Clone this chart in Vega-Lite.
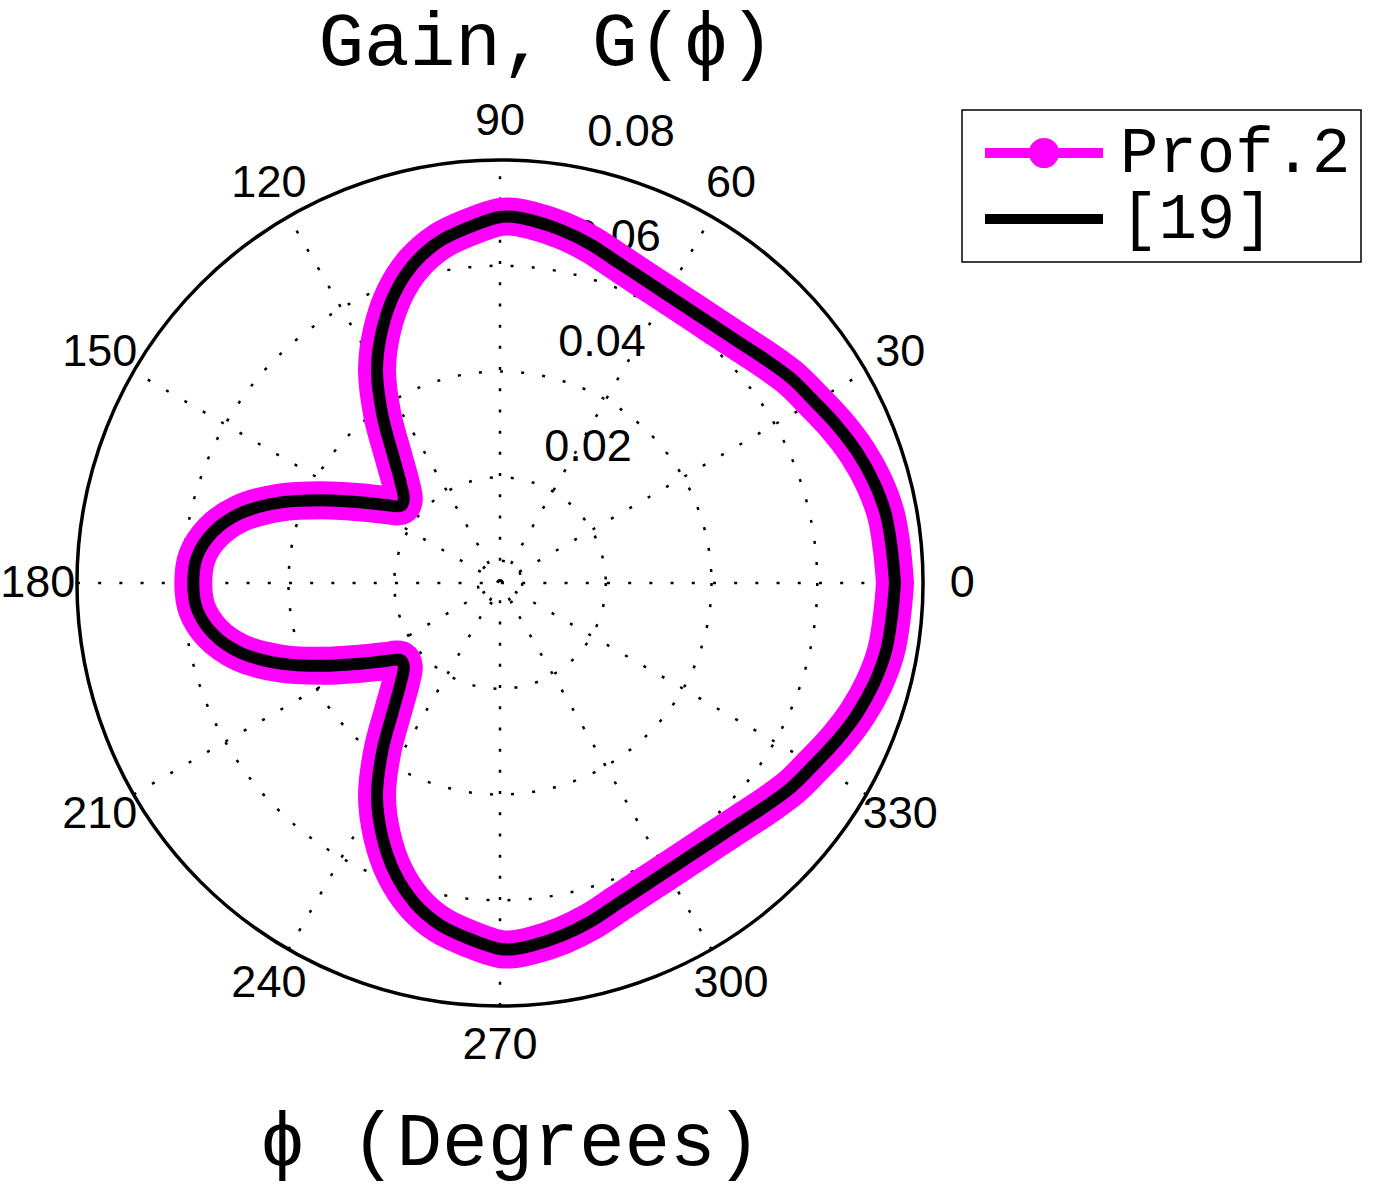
{
  "$schema": "https://vega.github.io/schema/vega-lite/v6.json",
  "width": 1400,
  "height": 1187,
  "autosize": {"type": "none"},
  "padding": 0,
  "background": "white",
  "config": {
    "view": {"stroke": null},
    "axisX": {
      "domain": false, "ticks": false, "labels": false, "grid": false,
      "titleFont": "Liberation Mono", "titleFontSize": 76, "titleFontWeight": "normal", "titleColor": "black",
      "titleX": 510, "titleY": -23, "titleAlign": "center", "titleBaseline": "alphabetic", "titleAngle": 0
    },
    "axisY": {
      "domain": false, "ticks": false, "labels": false, "grid": false,
      "titleFont": "Liberation Mono", "titleFontSize": 76, "titleFontWeight": "normal", "titleColor": "black",
      "titleX": 546, "titleY": 64, "titleAlign": "center", "titleBaseline": "alphabetic", "titleAngle": 0
    }
  },
  "datasets": {
    "curve": [
      {"series": "Prof.2", "phi": 0, "g": 0.0747},
      {"series": "Prof.2", "phi": 5, "g": 0.07438},
      {"series": "Prof.2", "phi": 10, "g": 0.07413},
      {"series": "Prof.2", "phi": 15, "g": 0.07326},
      {"series": "Prof.2", "phi": 20, "g": 0.07197},
      {"series": "Prof.2", "phi": 25, "g": 0.07035},
      {"series": "Prof.2", "phi": 30, "g": 0.06865},
      {"series": "Prof.2", "phi": 35, "g": 0.06732},
      {"series": "Prof.2", "phi": 40, "g": 0.06564},
      {"series": "Prof.2", "phi": 45, "g": 0.0642},
      {"series": "Prof.2", "phi": 50, "g": 0.06331},
      {"series": "Prof.2", "phi": 55, "g": 0.06292},
      {"series": "Prof.2", "phi": 60, "g": 0.06301},
      {"series": "Prof.2", "phi": 65, "g": 0.06358},
      {"series": "Prof.2", "phi": 70, "g": 0.06466},
      {"series": "Prof.2", "phi": 75, "g": 0.06628},
      {"series": "Prof.2", "phi": 80, "g": 0.0677},
      {"series": "Prof.2", "phi": 85, "g": 0.06884},
      {"series": "Prof.2", "phi": 88, "g": 0.06931},
      {"series": "Prof.2", "phi": 90, "g": 0.06921},
      {"series": "Prof.2", "phi": 95, "g": 0.06751},
      {"series": "Prof.2", "phi": 100, "g": 0.06562},
      {"series": "Prof.2", "phi": 105, "g": 0.06259},
      {"series": "Prof.2", "phi": 110, "g": 0.05825},
      {"series": "Prof.2", "phi": 115, "g": 0.05276},
      {"series": "Prof.2", "phi": 120, "g": 0.04652},
      {"series": "Prof.2", "phi": 125, "g": 0.03877},
      {"series": "Prof.2", "phi": 130, "g": 0.03139},
      {"series": "Prof.2", "phi": 135, "g": 0.02648},
      {"series": "Prof.2", "phi": 139, "g": 0.02411},
      {"series": "Prof.2", "phi": 142, "g": 0.02373},
      {"series": "Prof.2", "phi": 146, "g": 0.02648},
      {"series": "Prof.2", "phi": 150, "g": 0.03054},
      {"series": "Prof.2", "phi": 155, "g": 0.03707},
      {"series": "Prof.2", "phi": 160, "g": 0.04444},
      {"series": "Prof.2", "phi": 165, "g": 0.05087},
      {"series": "Prof.2", "phi": 170, "g": 0.05514},
      {"series": "Prof.2", "phi": 175, "g": 0.05749},
      {"series": "Prof.2", "phi": 180, "g": 0.058},
      {"series": "Prof.2", "phi": 185, "g": 0.05749},
      {"series": "Prof.2", "phi": 190, "g": 0.05514},
      {"series": "Prof.2", "phi": 195, "g": 0.05087},
      {"series": "Prof.2", "phi": 200, "g": 0.04444},
      {"series": "Prof.2", "phi": 205, "g": 0.03707},
      {"series": "Prof.2", "phi": 210, "g": 0.03054},
      {"series": "Prof.2", "phi": 214, "g": 0.02648},
      {"series": "Prof.2", "phi": 218, "g": 0.02373},
      {"series": "Prof.2", "phi": 221, "g": 0.02411},
      {"series": "Prof.2", "phi": 225, "g": 0.02648},
      {"series": "Prof.2", "phi": 230, "g": 0.03139},
      {"series": "Prof.2", "phi": 235, "g": 0.03877},
      {"series": "Prof.2", "phi": 240, "g": 0.04652},
      {"series": "Prof.2", "phi": 245, "g": 0.05276},
      {"series": "Prof.2", "phi": 250, "g": 0.05825},
      {"series": "Prof.2", "phi": 255, "g": 0.06259},
      {"series": "Prof.2", "phi": 260, "g": 0.06562},
      {"series": "Prof.2", "phi": 265, "g": 0.06751},
      {"series": "Prof.2", "phi": 270, "g": 0.06921},
      {"series": "Prof.2", "phi": 272, "g": 0.06931},
      {"series": "Prof.2", "phi": 275, "g": 0.06884},
      {"series": "Prof.2", "phi": 280, "g": 0.0677},
      {"series": "Prof.2", "phi": 285, "g": 0.06628},
      {"series": "Prof.2", "phi": 290, "g": 0.06466},
      {"series": "Prof.2", "phi": 295, "g": 0.06358},
      {"series": "Prof.2", "phi": 300, "g": 0.06301},
      {"series": "Prof.2", "phi": 305, "g": 0.06292},
      {"series": "Prof.2", "phi": 310, "g": 0.06331},
      {"series": "Prof.2", "phi": 315, "g": 0.0642},
      {"series": "Prof.2", "phi": 320, "g": 0.06564},
      {"series": "Prof.2", "phi": 325, "g": 0.06732},
      {"series": "Prof.2", "phi": 330, "g": 0.06865},
      {"series": "Prof.2", "phi": 335, "g": 0.07035},
      {"series": "Prof.2", "phi": 340, "g": 0.07197},
      {"series": "Prof.2", "phi": 345, "g": 0.07326},
      {"series": "Prof.2", "phi": 350, "g": 0.07413},
      {"series": "Prof.2", "phi": 355, "g": 0.07438},
      {"series": "Prof.2", "phi": 360, "g": 0.0747},
      {"series": "[19]", "phi": 0, "g": 0.0747},
      {"series": "[19]", "phi": 5, "g": 0.07438},
      {"series": "[19]", "phi": 10, "g": 0.07413},
      {"series": "[19]", "phi": 15, "g": 0.07326},
      {"series": "[19]", "phi": 20, "g": 0.07197},
      {"series": "[19]", "phi": 25, "g": 0.07035},
      {"series": "[19]", "phi": 30, "g": 0.06865},
      {"series": "[19]", "phi": 35, "g": 0.06732},
      {"series": "[19]", "phi": 40, "g": 0.06564},
      {"series": "[19]", "phi": 45, "g": 0.0642},
      {"series": "[19]", "phi": 50, "g": 0.06331},
      {"series": "[19]", "phi": 55, "g": 0.06292},
      {"series": "[19]", "phi": 60, "g": 0.06301},
      {"series": "[19]", "phi": 65, "g": 0.06358},
      {"series": "[19]", "phi": 70, "g": 0.06466},
      {"series": "[19]", "phi": 75, "g": 0.06628},
      {"series": "[19]", "phi": 80, "g": 0.0677},
      {"series": "[19]", "phi": 85, "g": 0.06884},
      {"series": "[19]", "phi": 88, "g": 0.06931},
      {"series": "[19]", "phi": 90, "g": 0.06921},
      {"series": "[19]", "phi": 95, "g": 0.06751},
      {"series": "[19]", "phi": 100, "g": 0.06562},
      {"series": "[19]", "phi": 105, "g": 0.06259},
      {"series": "[19]", "phi": 110, "g": 0.05825},
      {"series": "[19]", "phi": 115, "g": 0.05276},
      {"series": "[19]", "phi": 120, "g": 0.04652},
      {"series": "[19]", "phi": 125, "g": 0.03877},
      {"series": "[19]", "phi": 130, "g": 0.03139},
      {"series": "[19]", "phi": 135, "g": 0.02648},
      {"series": "[19]", "phi": 139, "g": 0.02411},
      {"series": "[19]", "phi": 142, "g": 0.02373},
      {"series": "[19]", "phi": 146, "g": 0.02648},
      {"series": "[19]", "phi": 150, "g": 0.03054},
      {"series": "[19]", "phi": 155, "g": 0.03707},
      {"series": "[19]", "phi": 160, "g": 0.04444},
      {"series": "[19]", "phi": 165, "g": 0.05087},
      {"series": "[19]", "phi": 170, "g": 0.05514},
      {"series": "[19]", "phi": 175, "g": 0.05749},
      {"series": "[19]", "phi": 180, "g": 0.058},
      {"series": "[19]", "phi": 185, "g": 0.05749},
      {"series": "[19]", "phi": 190, "g": 0.05514},
      {"series": "[19]", "phi": 195, "g": 0.05087},
      {"series": "[19]", "phi": 200, "g": 0.04444},
      {"series": "[19]", "phi": 205, "g": 0.03707},
      {"series": "[19]", "phi": 210, "g": 0.03054},
      {"series": "[19]", "phi": 214, "g": 0.02648},
      {"series": "[19]", "phi": 218, "g": 0.02373},
      {"series": "[19]", "phi": 221, "g": 0.02411},
      {"series": "[19]", "phi": 225, "g": 0.02648},
      {"series": "[19]", "phi": 230, "g": 0.03139},
      {"series": "[19]", "phi": 235, "g": 0.03877},
      {"series": "[19]", "phi": 240, "g": 0.04652},
      {"series": "[19]", "phi": 245, "g": 0.05276},
      {"series": "[19]", "phi": 250, "g": 0.05825},
      {"series": "[19]", "phi": 255, "g": 0.06259},
      {"series": "[19]", "phi": 260, "g": 0.06562},
      {"series": "[19]", "phi": 265, "g": 0.06751},
      {"series": "[19]", "phi": 270, "g": 0.06921},
      {"series": "[19]", "phi": 272, "g": 0.06931},
      {"series": "[19]", "phi": 275, "g": 0.06884},
      {"series": "[19]", "phi": 280, "g": 0.0677},
      {"series": "[19]", "phi": 285, "g": 0.06628},
      {"series": "[19]", "phi": 290, "g": 0.06466},
      {"series": "[19]", "phi": 295, "g": 0.06358},
      {"series": "[19]", "phi": 300, "g": 0.06301},
      {"series": "[19]", "phi": 305, "g": 0.06292},
      {"series": "[19]", "phi": 310, "g": 0.06331},
      {"series": "[19]", "phi": 315, "g": 0.0642},
      {"series": "[19]", "phi": 320, "g": 0.06564},
      {"series": "[19]", "phi": 325, "g": 0.06732},
      {"series": "[19]", "phi": 330, "g": 0.06865},
      {"series": "[19]", "phi": 335, "g": 0.07035},
      {"series": "[19]", "phi": 340, "g": 0.07197},
      {"series": "[19]", "phi": 345, "g": 0.07326},
      {"series": "[19]", "phi": 350, "g": 0.07413},
      {"series": "[19]", "phi": 355, "g": 0.07438},
      {"series": "[19]", "phi": 360, "g": 0.0747}
    ],
    "rings": [{"g": 0.0042}, {"g": 0.02}, {"g": 0.04}, {"g": 0.06}],
    "outer": [{"g": 0.08}],
    "spokes": [{"a": 0}, {"a": 30}, {"a": 60}, {"a": 90}, {"a": 120}, {"a": 150}],
    "angles": [
      {"a": 0, "label": "0"}, {"a": 30, "label": "30"}, {"a": 60, "label": "60"},
      {"a": 90, "label": "90"}, {"a": 120, "label": "120"}, {"a": 150, "label": "150"},
      {"a": 180, "label": "180"}, {"a": 210, "label": "210"}, {"a": 240, "label": "240"},
      {"a": 270, "label": "270"}, {"a": 300, "label": "300"}, {"a": 330, "label": "330"}
    ],
    "rlabels": [
      {"label": "0.02", "x": 0.01664, "y": 0.02572},
      {"label": "0.04", "x": 0.01929, "y": 0.04557},
      {"label": "0.06", "x": 0.02213, "y": 0.06543},
      {"label": "0.08", "x": 0.02477, "y": 0.08529}
    ]
  },
  "layer": [
    {
      "data": {"name": "spokes"},
      "transform": [
        {"calculate": "-0.08*cos(datum.a*PI/180)", "as": "px"},
        {"calculate": "-0.08*sin(datum.a*PI/180)", "as": "py"},
        {"calculate": "0.08*cos(datum.a*PI/180)", "as": "px2"},
        {"calculate": "0.08*sin(datum.a*PI/180)", "as": "py2"}
      ],
      "mark": {"type": "rule", "stroke": "black", "strokeWidth": 2.5, "strokeDash": [3, 18.2]},
      "encoding": {
        "x": {"field": "px", "type": "quantitative", "title": "ϕ (Degrees)", "scale": {"domain": [-0.094554, 0.170197], "nice": false, "zero": false}, "axis": {"title": "ϕ (Degrees)"}},
        "y": {"field": "py", "type": "quantitative", "title": "Gain, G(ϕ)", "scale": {"domain": [-0.114221, 0.11025], "nice": false, "zero": false}, "axis": {"title": "Gain, G(ϕ)"}},
        "x2": {"field": "px2"},
        "y2": {"field": "py2"}
      }
    },
    {
      "data": {"name": "rings"},
      "mark": {"type": "point", "shape": "circle", "filled": false, "fill": null, "stroke": "black", "strokeWidth": 2.5, "strokeDash": [3, 18.2], "opacity": 1},
      "encoding": {
        "x": {"datum": 0, "type": "quantitative", "title": "ϕ (Degrees)", "scale": {"domain": [-0.094554, 0.170197], "nice": false, "zero": false}, "axis": {"title": "ϕ (Degrees)"}},
        "y": {"datum": 0, "type": "quantitative", "title": "Gain, G(ϕ)", "scale": {"domain": [-0.114221, 0.11025], "nice": false, "zero": false}, "axis": {"title": "Gain, G(ϕ)"}},
        "size": {"field": "g", "type": "quantitative", "scale": {"type": "pow", "exponent": 2, "domain": [0, 0.08], "range": [0, 715851]}, "legend": null}
      }
    },
    {
      "data": {"name": "outer"},
      "mark": {"type": "point", "shape": "circle", "filled": false, "fill": null, "stroke": "black", "strokeWidth": 3.5, "opacity": 1},
      "encoding": {
        "x": {"datum": 0, "type": "quantitative", "title": "ϕ (Degrees)", "scale": {"domain": [-0.094554, 0.170197], "nice": false, "zero": false}, "axis": {"title": "ϕ (Degrees)"}},
        "y": {"datum": 0, "type": "quantitative", "title": "Gain, G(ϕ)", "scale": {"domain": [-0.114221, 0.11025], "nice": false, "zero": false}, "axis": {"title": "Gain, G(ϕ)"}},
        "size": {"field": "g", "type": "quantitative", "scale": {"type": "pow", "exponent": 2, "domain": [0, 0.08], "range": [0, 715851]}, "legend": null}
      }
    },
    {
      "data": {"name": "angles"},
      "transform": [
        {"calculate": "0.0874*cos(datum.a*PI/180)", "as": "px"},
        {"calculate": "0.0874*sin(datum.a*PI/180)", "as": "py"}
      ],
      "mark": {"type": "text", "font": "Liberation Sans", "fontSize": 45, "align": "center", "baseline": "middle", "color": "black"},
      "encoding": {
        "x": {"field": "px", "type": "quantitative", "title": "ϕ (Degrees)", "scale": {"domain": [-0.094554, 0.170197], "nice": false, "zero": false}, "axis": {"title": "ϕ (Degrees)"}},
        "y": {"field": "py", "type": "quantitative", "title": "Gain, G(ϕ)", "scale": {"domain": [-0.114221, 0.11025], "nice": false, "zero": false}, "axis": {"title": "Gain, G(ϕ)"}},
        "text": {"field": "label"}
      }
    },
    {
      "data": {"name": "rlabels"},
      "mark": {"type": "text", "font": "Liberation Sans", "fontSize": 45, "align": "center", "baseline": "middle", "color": "black"},
      "encoding": {
        "x": {"field": "x", "type": "quantitative", "title": "ϕ (Degrees)", "scale": {"domain": [-0.094554, 0.170197], "nice": false, "zero": false}, "axis": {"title": "ϕ (Degrees)"}},
        "y": {"field": "y", "type": "quantitative", "title": "Gain, G(ϕ)", "scale": {"domain": [-0.114221, 0.11025], "nice": false, "zero": false}, "axis": {"title": "Gain, G(ϕ)"}},
        "text": {"field": "label"}
      }
    },
    {
      "data": {"name": "curve"},
      "transform": [
        {"filter": "datum.series === 'Prof.2'"},
        {"calculate": "datum.g*cos(datum.phi*PI/180)", "as": "px"},
        {"calculate": "datum.g*sin(datum.phi*PI/180)", "as": "py"}
      ],
      "mark": {"type": "line", "strokeWidth": 38, "strokeJoin": "round", "strokeCap": "round", "interpolate": "catmull-rom"},
      "encoding": {
        "x": {"field": "px", "type": "quantitative", "title": "ϕ (Degrees)", "scale": {"domain": [-0.094554, 0.170197], "nice": false, "zero": false}, "axis": {"title": "ϕ (Degrees)"}},
        "y": {"field": "py", "type": "quantitative", "title": "Gain, G(ϕ)", "scale": {"domain": [-0.114221, 0.11025], "nice": false, "zero": false}, "axis": {"title": "Gain, G(ϕ)"}},
        "order": {"field": "phi", "type": "quantitative"},
        "color": {
          "field": "series", "type": "nominal",
          "scale": {"domain": ["Prof.2", "[19]"], "range": ["#ff00ff", "#000000"]},
          "legend": {
            "orient": "none", "legendX": 962, "legendY": 110, "title": null, "direction": "vertical",
            "strokeColor": "black", "fillColor": "white", "padding": 10, "symbolOffset": 8, "clipHeight": 66,
            "labelFont": "Liberation Mono", "labelFontSize": 64, "labelColor": "black", "labelOffset": 12, "labelLimit": 0,
            "symbolType": "stroke", "symbolSize": 13924, "symbolStrokeWidth": 10, "rowPadding": 0,
            "encode": {
              "legend": {"update": {"strokeWidth": {"value": 1.5}}},
              "symbols": {"update": {
                "shape": {"signal": "datum.value === 'Prof.2' ? 'M-1,0H1M0.17,0A0.17,0.17,0,1,1,-0.17,0A0.17,0.17,0,1,1,0.17,0' : 'stroke'"},
                "strokeWidth": {"value": 10},
                "fill": {"value": "transparent"},
                "fillOpacity": {"value": 0},
                "opacity": {"value": 1}
              }}
            }
          }
        }
      }
    },
    {
      "data": {"name": "curve"},
      "transform": [
        {"filter": "datum.series === '[19]'"},
        {"calculate": "datum.g*cos(datum.phi*PI/180)", "as": "px"},
        {"calculate": "datum.g*sin(datum.phi*PI/180)", "as": "py"}
      ],
      "mark": {"type": "line", "strokeWidth": 12, "strokeJoin": "round", "strokeCap": "round", "interpolate": "catmull-rom"},
      "encoding": {
        "x": {"field": "px", "type": "quantitative", "title": "ϕ (Degrees)", "scale": {"domain": [-0.094554, 0.170197], "nice": false, "zero": false}, "axis": {"title": "ϕ (Degrees)"}},
        "y": {"field": "py", "type": "quantitative", "title": "Gain, G(ϕ)", "scale": {"domain": [-0.114221, 0.11025], "nice": false, "zero": false}, "axis": {"title": "Gain, G(ϕ)"}},
        "order": {"field": "phi", "type": "quantitative"},
        "color": {
          "field": "series", "type": "nominal",
          "scale": {"domain": ["Prof.2", "[19]"], "range": ["#ff00ff", "#000000"]},
          "legend": {
            "orient": "none", "legendX": 962, "legendY": 110, "title": null, "direction": "vertical",
            "strokeColor": "black", "fillColor": "white", "padding": 10, "symbolOffset": 8, "clipHeight": 66,
            "labelFont": "Liberation Mono", "labelFontSize": 64, "labelColor": "black", "labelOffset": 12, "labelLimit": 0,
            "symbolType": "stroke", "symbolSize": 13924, "symbolStrokeWidth": 10, "rowPadding": 0,
            "encode": {
              "legend": {"update": {"strokeWidth": {"value": 1.5}}},
              "symbols": {"update": {
                "shape": {"signal": "datum.value === 'Prof.2' ? 'M-1,0H1M0.17,0A0.17,0.17,0,1,1,-0.17,0A0.17,0.17,0,1,1,0.17,0' : 'stroke'"},
                "strokeWidth": {"value": 10},
                "fill": {"value": "transparent"},
                "fillOpacity": {"value": 0},
                "opacity": {"value": 1}
              }}
            }
          }
        }
      }
    }
  ]
}
